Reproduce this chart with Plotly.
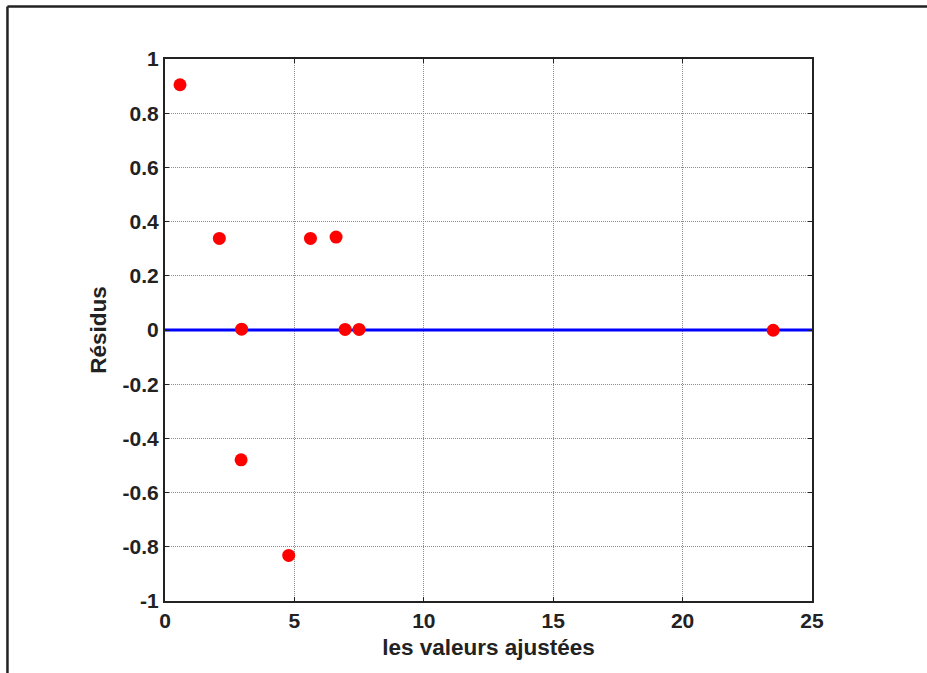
import plotly.graph_objects as go

# Fitted values and residuals
valeurs_ajustees = [0.58, 2.10, 2.96, 5.62, 6.61, 6.96, 7.50, 2.94, 4.78, 23.5]
residus = [0.905, 0.338, 0.003, 0.338, 0.343, 0.002, 0.002, -0.479, -0.832, -0.001]

x_ticks = [0, 5, 10, 15, 20, 25]
y_ticks = [-1, -0.8, -0.6, -0.4, -0.2, 0, 0.2, 0.4, 0.6, 0.8, 1]
y_tick_text = ["-1", "-0.8", "-0.6", "-0.4", "-0.2", "0", "0.2", "0.4", "0.6", "0.8", "1"]

font_family = "Liberation Sans, Arial, sans-serif"

fig = go.Figure()

# zero reference line
fig.add_trace(go.Scatter(
    x=[0, 25], y=[0, 0], mode="lines",
    line=dict(color="#0000ff", width=3), hoverinfo="skip", showlegend=False,
))

# residual points
fig.add_trace(go.Scatter(
    x=valeurs_ajustees, y=residus, mode="markers",
    marker=dict(color="#ff0000", size=13, line=dict(width=0)),
    showlegend=False,
))

axis_common = dict(
    showgrid=True, gridcolor="#8c8c8c", griddash="1px,1px", gridwidth=1,
    showline=True, linecolor="#222222", linewidth=2, mirror="ticks",
    ticks="inside", ticklen=4, tickcolor="#222222",
    tickfont=dict(family=font_family, size=21, color="#222222"),
    zeroline=False,
)

fig.update_xaxes(
    range=[0, 25], tickvals=x_ticks, ticktext=[f"<b>{v}</b>" for v in x_ticks],
    title=dict(text="<b>les valeurs ajustées</b>", standoff=8,
               font=dict(family=font_family, size=22.5, color="#222222")),
    **axis_common,
)
fig.update_yaxes(
    range=[-1, 1], tickvals=y_ticks, ticktext=[f"<b>{t}</b>" for t in y_tick_text],
    title=dict(text="<b>Résidus</b>", standoff=10,
               font=dict(family=font_family, size=22.5, color="#222222")),
    **axis_common,
)

# outer figure frame (left and top edges)
fig.add_shape(type="line", xref="paper", yref="paper",
              x0=-0.2435, x1=-0.2435, y0=-0.2, y1=1.097,
              line=dict(color="#222222", width=2.5))
fig.add_shape(type="line", xref="paper", yref="paper",
              x0=-0.2435, x1=1.25, y0=1.097, y1=1.097,
              line=dict(color="#222222", width=2.5))

fig.update_layout(
    width=927, height=673,
    margin=dict(l=165, r=115, t=59, b=72),
    paper_bgcolor="white", plot_bgcolor="white",
    font=dict(family=font_family, color="#222222"),
)

fig.write_html("out.html")
